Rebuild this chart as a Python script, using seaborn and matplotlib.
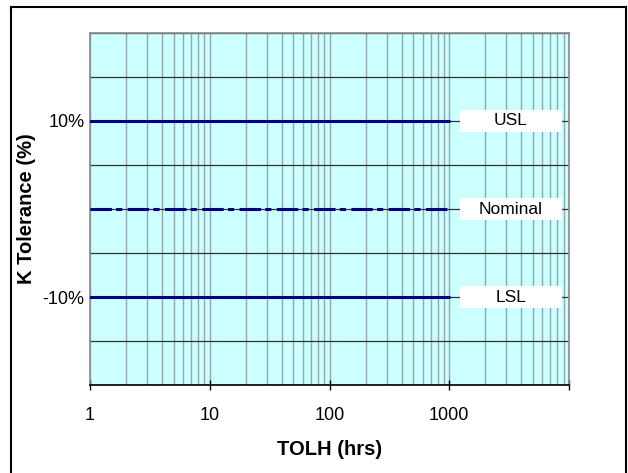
import matplotlib
matplotlib.use("Agg")
import matplotlib.pyplot as plt
import matplotlib.patches as mpatches
import matplotlib.transforms as mtrans
import numpy as np
import pandas as pd
import seaborn as sns

# ---- data ----
tolh_hrs = [1, 1000]
usl_values = [10, 10]
nominal_values = [0, 0]
lsl_values = [-10, -10]
series_names = ["USL", "Nominal", "LSL"]
x_tick_values = [1, 10, 100, 1000, 10000]
x_tick_labels = ["1", "10", "100", "1000", ""]
y_tick_values = [-20, -15, -10, -5, 0, 5, 10, 15, 20]
y_tick_labels = ["", "", "-10%", "", "", "", "10%", "", ""]

df = pd.DataFrame({
    "TOLH": tolh_hrs * 3,
    "K": usl_values + nominal_values + lsl_values,
    "series": [series_names[0]] * 2 + [series_names[1]] * 2 + [series_names[2]] * 2,
})

sns.set_theme(style="white")
plt.rcParams["font.family"] = ["Liberation Sans", "DejaVu Sans"]
plt.rcParams["text.color"] = "black"
plt.rcParams["axes.labelcolor"] = "black"
plt.rcParams["xtick.color"] = "black"
plt.rcParams["ytick.color"] = "black"

fig = plt.figure(figsize=(6.28, 4.73), dpi=100)
ax = fig.add_axes([90 / 628, 1 - 385 / 473, (569 - 90) / 628, (385 - 33) / 473])
ax.set_facecolor("#CCFFFF")

navy = "#000080"
sns.lineplot(data=df, x="TOLH", y="K", hue="series", style="series",
             palette={"USL": navy, "Nominal": navy, "LSL": navy},
             dashes={"USL": "", "Nominal": (7, 1.4, 2, 1.8), "LSL": ""},
             linewidth=2.2, legend=False, ax=ax, zorder=3)

ax.set_xscale("log")
ax.set_xlim(1, 10000)
ax.set_ylim(-20, 20)

# grid
ax.set_xticks(x_tick_values)
ax.set_xticklabels(x_tick_labels)
ax.xaxis.set_minor_locator(matplotlib.ticker.LogLocator(base=10, subs=np.arange(2, 10)))
ax.xaxis.set_minor_formatter(matplotlib.ticker.NullFormatter())
ax.set_yticks(y_tick_values)
ax.set_yticklabels(y_tick_labels)
ax.grid(True, which="both", axis="x", color="#93a8a8", linewidth=1.0, zorder=1)
ax.grid(True, which="major", axis="y", color="#333333", linewidth=0.9, zorder=1)
ax.set_axisbelow(True)

ax.tick_params(axis="x", which="major", direction="inout", length=7, width=1,
               color="black", labelsize=13, pad=12, bottom=True)
ax.tick_params(axis="x", which="minor", length=0)
ax.tick_params(axis="y", length=0, labelsize=13, pad=4)

for side in ["top", "right", "left"]:
    ax.spines[side].set_color("#8a8a8a")
    ax.spines[side].set_linewidth(1.2)
ax.spines["bottom"].set_color("black")
ax.spines["bottom"].set_linewidth(1.2)

ax.set_xlabel("TOLH (hrs)", fontsize=14.5, fontweight="bold", labelpad=12)
ax.set_ylabel("K Tolerance (%)", fontsize=14.5, fontweight="bold", labelpad=5)

# label boxes
trans = mtrans.blended_transform_factory(ax.transAxes, ax.transData)
for name, vals in zip(series_names, [usl_values, nominal_values, lsl_values]):
    y = vals[0]
    ax.add_patch(mpatches.Rectangle((0.772, y - 1.3), 0.213, 2.6, transform=trans,
                                    facecolor="white", edgecolor="none", zorder=4))
    ax.text(0.8785, y, name, transform=trans, ha="center", va="center",
            fontsize=12.5, color="black", zorder=5)

# figure border
fig.patches.append(mpatches.Rectangle((11 / 628, -0.05), (626 - 11) / 628, 1.05 - 7 / 473,
                                      transform=fig.transFigure, fill=False,
                                      edgecolor="black", linewidth=1.5))

fig.savefig("out.png", dpi=100)
